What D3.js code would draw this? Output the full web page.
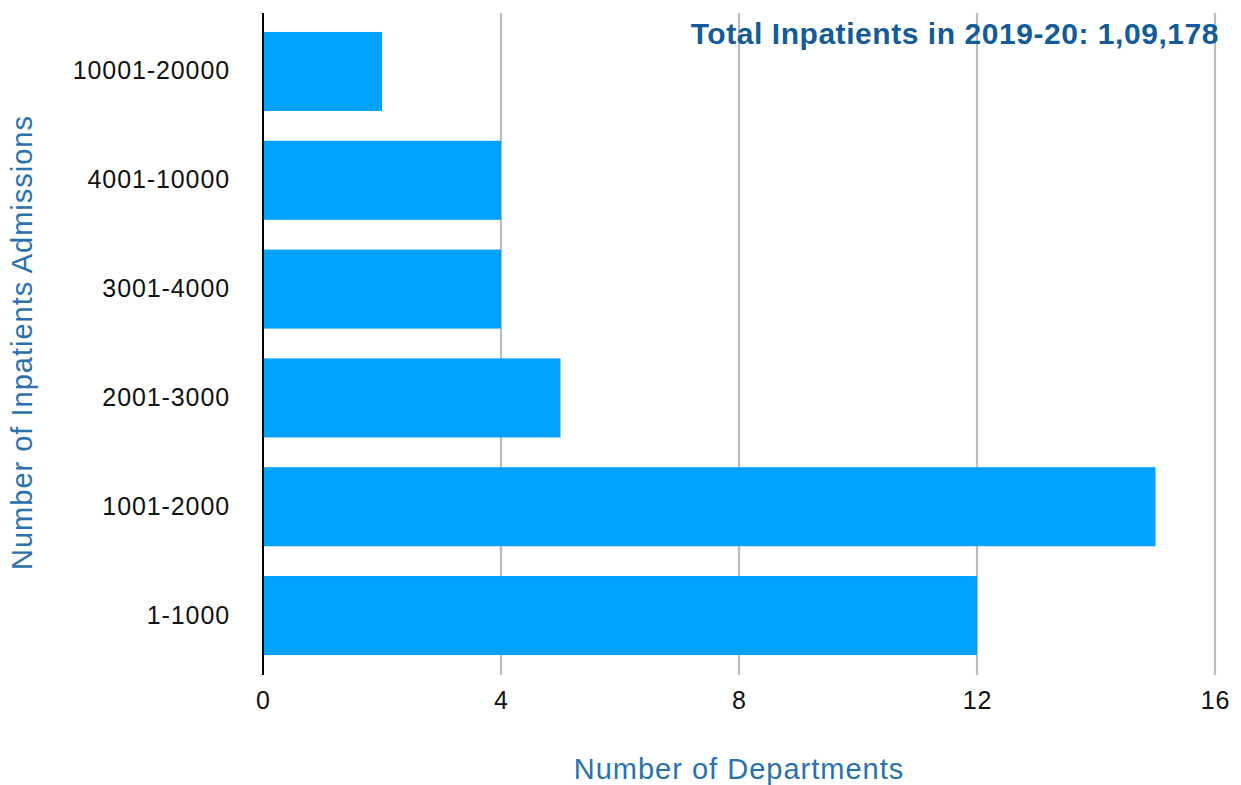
<!DOCTYPE html>
<html>
<head>
<meta charset="utf-8">
<script src="https://cdn.jsdelivr.net/npm/d3@7"></script>
<style>
  html, body { margin: 0; padding: 0; background: #fff; }
  svg { display: block; font-family: "Liberation Sans", Arial, Helvetica, sans-serif; }
</style>
</head>
<body>
<svg id="chart" width="1241" height="785"></svg>
<script>
// Admission bands (top to bottom) and number of departments in each
const categories = ["10001-20000", "4001-10000", "3001-4000", "2001-3000", "1001-2000", "1-1000"];
const departments = [2, 4, 4, 5, 15, 12];
const xTicks = [0, 4, 8, 12, 16];
const titleText = "Total Inpatients in 2019-20: 1,09,178";
const xTitle = "Number of Departments";
const yTitle = "Number of Inpatients Admissions";

const svg = d3.select("#chart");
const plotLeft = 263, plotRight = 1215, plotTop = 14, plotBottom = 673;

const x = d3.scaleLinear().domain([0, 16]).range([plotLeft, plotRight]);
const y = d3.scaleBand().domain(categories).range([plotTop, plotBottom])
  .paddingInner(0.274).paddingOuter(0.165);

// vertical gridlines
svg.append("g")
  .selectAll("line")
  .data(xTicks.filter(d => d > 0))
  .join("line")
  .attr("x1", d => x(d)).attr("x2", d => x(d))
  .attr("y1", 13).attr("y2", 675)
  .attr("stroke", "#bcbcbc").attr("stroke-width", 2.2);

// bars
svg.append("g")
  .selectAll("rect")
  .data(categories)
  .join("rect")
  .attr("x", x(0) + 1)
  .attr("y", d => y(d))
  .attr("width", (d, i) => x(departments[i]) - x(0) - 1)
  .attr("height", y.bandwidth())
  .attr("fill", "#00a2ff");

// x axis tick labels
const xAxis = svg.append("g").attr("transform", `translate(0,${plotBottom})`)
  .call(d3.axisBottom(x).tickValues(xTicks).tickSize(0).tickPadding(18));
xAxis.select(".domain").remove();
xAxis.selectAll("text")
  .attr("font-size", 25).attr("letter-spacing", 0.9)
  .attr("fill", "#111").attr("font-family", "Liberation Sans, Arial, sans-serif");

// y axis with category labels
const yAxis = svg.append("g").attr("transform", `translate(${plotLeft},0)`)
  .call(d3.axisLeft(y).tickSize(0).tickPadding(33));
yAxis.select(".domain").remove();
yAxis.selectAll("text")
  .attr("font-size", 25).attr("letter-spacing", 0.9)
  .attr("fill", "#111").attr("font-family", "Liberation Sans, Arial, sans-serif");

// vertical axis line
svg.append("line")
  .attr("x1", plotLeft).attr("x2", plotLeft)
  .attr("y1", 13).attr("y2", 675)
  .attr("stroke", "#000").attr("stroke-width", 2);

// title
svg.append("text")
  .attr("x", 1219).attr("y", 44)
  .attr("text-anchor", "end")
  .attr("font-size", 30).attr("font-weight", "bold").attr("letter-spacing", 0.55)
  .attr("fill", "#135c99")
  .text(titleText);

// axis titles
svg.append("text")
  .attr("x", (plotLeft + plotRight) / 2).attr("y", 779)
  .attr("text-anchor", "middle")
  .attr("font-size", 29).attr("letter-spacing", 1)
  .attr("fill", "#2a72ad")
  .text(xTitle);

svg.append("text")
  .attr("transform", `translate(32,${(115 + 570) / 2}) rotate(-90)`)
  .attr("text-anchor", "middle")
  .attr("font-size", 29).attr("letter-spacing", 1)
  .attr("fill", "#2a72ad")
  .text(yTitle);
</script>
</body>
</html>
